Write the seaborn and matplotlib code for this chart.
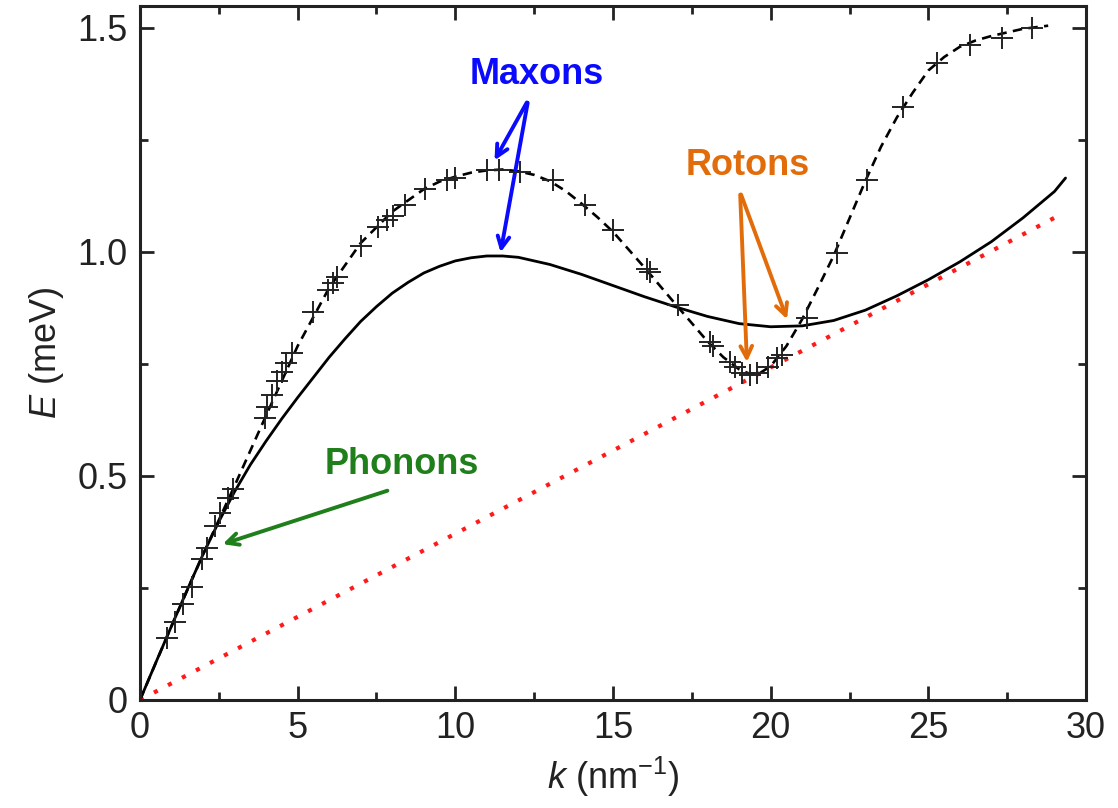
import matplotlib
matplotlib.use("Agg")
import matplotlib.pyplot as plt
import seaborn as sns
import pandas as pd

# Measured excitation energies (neutron scattering points)
k_meas = [0.85, 1.11, 1.37, 1.64, 1.96, 2.11, 2.38, 2.54, 2.80, 2.96,
          3.96, 4.02, 4.18, 4.33, 4.49, 4.63, 4.81, 5.50, 5.97, 6.13,
          6.24, 7.00, 7.56, 7.82, 8.01, 8.40, 9.04, 9.73, 9.99, 11.00,
          11.37, 12.05, 13.11, 14.11, 15.01, 16.07, 16.17, 17.07, 18.08, 18.18,
          18.71, 18.87, 19.08, 19.35, 19.56, 19.93, 20.19, 20.35, 21.15, 22.10,
          23.05, 24.21, 25.27, 26.32, 27.33, 28.28]
E_meas = [0.138, 0.175, 0.214, 0.252, 0.315, 0.340, 0.389, 0.417, 0.450, 0.472,
          0.630, 0.655, 0.681, 0.711, 0.733, 0.752, 0.774, 0.865, 0.915, 0.930,
          0.943, 1.013, 1.055, 1.071, 1.080, 1.105, 1.140, 1.161, 1.164, 1.183,
          1.183, 1.179, 1.161, 1.105, 1.049, 0.963, 0.956, 0.882, 0.800, 0.789,
          0.755, 0.743, 0.729, 0.725, 0.729, 0.743, 0.763, 0.770, 0.852, 0.997,
          1.161, 1.324, 1.421, 1.463, 1.478, 1.499]

# Smooth guide through the measured points (dashed)
k_guide = [0, 1, 2, 3, 4, 5, 6, 7, 8, 9, 9.5, 10, 10.5, 11, 11.5, 12, 12.5,
           13, 13.5, 14, 14.5, 15, 16, 17, 18, 18.5, 19, 19.3, 19.6, 20, 20.5,
           21, 21.5, 22, 22.5, 23, 23.5, 24, 24.5, 25, 25.5, 26, 26.5, 27,
           27.5, 28, 28.8]
E_guide = [0, 0.165, 0.325, 0.478, 0.635, 0.790, 0.920, 1.020, 1.090, 1.140,
           1.157, 1.168, 1.177, 1.182, 1.184, 1.180, 1.172, 1.158, 1.136,
           1.108, 1.078, 1.045, 0.965, 0.882, 0.800, 0.765, 0.738, 0.729,
           0.727, 0.745, 0.790, 0.850, 0.920, 0.992, 1.075, 1.158, 1.235,
           1.300, 1.355, 1.405, 1.435, 1.458, 1.472, 1.482, 1.490, 1.498, 1.505]

# Theoretical dispersion (solid)
k_theory = [0, 0.5, 1, 1.5, 2, 2.5, 3, 3.5, 4, 4.5, 5, 5.5, 6, 6.5, 7, 7.5,
            8, 8.5, 9, 9.5, 10, 10.5, 11, 11.5, 12, 13, 14, 15, 16, 17, 18,
            19, 20, 21, 22, 23, 24, 25, 26, 27, 28, 29, 29.35]
E_theory = [0, 0.083, 0.165, 0.246, 0.325, 0.398, 0.465, 0.525, 0.578, 0.628,
            0.675, 0.720, 0.765, 0.806, 0.845, 0.878, 0.908, 0.932, 0.953,
            0.968, 0.980, 0.987, 0.991, 0.991, 0.988, 0.972, 0.950, 0.925,
            0.900, 0.877, 0.856, 0.840, 0.833, 0.835, 0.847, 0.870, 0.902,
            0.938, 0.978, 1.023, 1.076, 1.135, 1.165]

# Landau critical-velocity line (red dotted)
k_landau = [0, 29.1]
E_landau = [0, 1.08]

x_ticks = [0, 5, 10, 15, 20, 25, 30]
x_ticklabels = ["0", "5", "10", "15", "20", "25", "30"]
y_ticks = [0, 0.5, 1.0, 1.5]
y_ticklabels = ["0", "0.5", "1.0", "1.5"]

sns.set_theme(style="ticks")
plt.rcParams["font.family"] = ["Liberation Sans", "DejaVu Sans"]
plt.rcParams["mathtext.fontset"] = "custom"
plt.rcParams["mathtext.rm"] = "Liberation Sans"
plt.rcParams["mathtext.it"] = "Liberation Sans:italic"

fig = plt.figure(figsize=(11.18, 8.08), dpi=100)
ax = fig.add_axes([0.1252, 0.1337, 0.8462, 0.8589])

df_landau = pd.DataFrame({"k": k_landau, "E": E_landau})
df_theory = pd.DataFrame({"k": k_theory, "E": E_theory})
df_guide = pd.DataFrame({"k": k_guide, "E": E_guide})
df_meas = pd.DataFrame({"k": k_meas, "E": E_meas})

sns.lineplot(data=df_landau, x="k", y="E", ax=ax, color="#ff1a1a",
             linewidth=3.0, linestyle=(0, (1, 2.8)), estimator=None)
sns.lineplot(data=df_theory, x="k", y="E", ax=ax, color="black",
             linewidth=2.0, estimator=None)
sns.lineplot(data=df_guide, x="k", y="E", ax=ax, color="black",
             linewidth=1.9, linestyle=(0, (3.6, 2.4)), estimator=None)
sns.scatterplot(data=df_meas, x="k", y="E", ax=ax, marker="+", s=260,
                color="#222222", linewidth=1.4, zorder=4)

ax.set_xlim(0, 30)
ax.set_ylim(0, 1.549)
ax.set_xticks(x_ticks)
ax.set_xticklabels(x_ticklabels)
ax.set_yticks(y_ticks)
ax.set_yticklabels(y_ticklabels)
ax.set_xticks([2.5, 7.5, 12.5, 17.5, 22.5, 27.5], minor=True)
ax.set_yticks([0.25, 0.75, 1.25], minor=True)
ax.tick_params(which="both", direction="in", top=True, right=True,
               width=2.0, colors="#222222", labelsize=26, labelcolor="#222222")
ax.tick_params(which="major", length=10)
ax.tick_params(which="minor", length=5.5)
ax.tick_params(axis="x", pad=8)
ax.tick_params(axis="y", pad=9)
for sp in ax.spines.values():
    sp.set_linewidth(2.2)
    sp.set_color("#222222")

ax.set_xlabel(r"$k$ (nm$^{-1}$)", fontsize=26, color="#222222", labelpad=6)
ax.set_ylabel(r"$E$ (meV)", fontsize=26, color="#222222", labelpad=8)

# Annotations
blue = "#0a0aff"
orange = "#e36c0a"
green = "#1f7f1a"
arrow_kw = dict(arrowstyle="->,head_length=0.7,head_width=0.35", lw=2.8)

ax.text(12.59, 1.395, "Maxons", color=blue, fontsize=26, fontweight="bold",
        ha="center", va="center")
ax.annotate("", xy=(11.2, 1.199), xytext=(12.31, 1.339),
            arrowprops=dict(color=blue, **arrow_kw))
ax.annotate("", xy=(11.42, 0.993), xytext=(12.31, 1.339),
            arrowprops=dict(color=blue, **arrow_kw))

ax.text(19.28, 1.194, "Rotons", color=orange, fontsize=26, fontweight="bold",
        ha="center", va="center")
ax.annotate("", xy=(19.25, 0.748), xytext=(19.03, 1.134),
            arrowprops=dict(color=orange, **arrow_kw))
ax.annotate("", xy=(20.55, 0.844), xytext=(19.03, 1.134),
            arrowprops=dict(color=orange, **arrow_kw))

ax.text(8.31, 0.525, "Phonons", color=green, fontsize=26, fontweight="bold",
        ha="center", va="center")
ax.annotate("", xy=(2.54, 0.346), xytext=(7.93, 0.469),
            arrowprops=dict(color=green, **arrow_kw))

fig.savefig("out.png", dpi=100)
